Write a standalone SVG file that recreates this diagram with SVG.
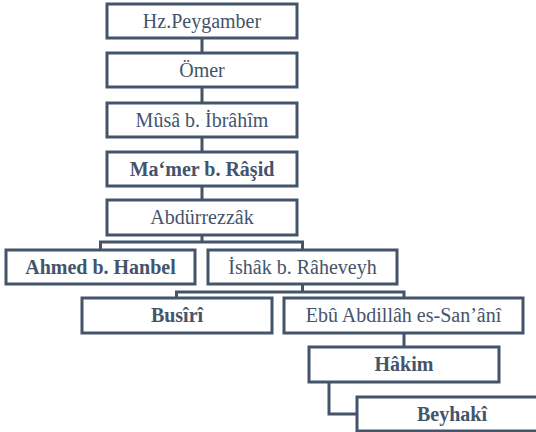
<svg xmlns="http://www.w3.org/2000/svg" width="536" height="432" viewBox="0 0 536 432">
<style>
.box{fill:#fff;stroke:#44546a;stroke-width:3}
.t{font-family:"Liberation Serif","DejaVu Serif",serif;font-size:20px;fill:#44546a;text-anchor:middle}
.b{font-weight:bold}
.c{fill:none;stroke:#44546a;stroke-width:3}
</style>
<rect width="536" height="432" fill="#fff"/>
<g id="connectors">
<path class="c" d="M202 38V53M202 87V103M202 137V152M202 186V200"/>
<path class="c" d="M202 235V242M100.5 250V242H302.5V250"/>
<path class="c" d="M302.5 284V292M176.5 298V292H404V298"/>
<path class="c" d="M404 333V347"/>
<path class="c" d="M329 382V414H357"/>
</g>
<g id="n1"><rect class="box" x="107" y="4" width="190" height="34"/><text class="t" x="202" y="28">Hz.Peygamber</text></g>
<g id="n2"><rect class="box" x="107" y="53" width="190" height="34"/><text class="t" x="202" y="77">Ömer</text></g>
<g id="n3"><rect class="box" x="107" y="103" width="190" height="34"/><text class="t" x="202" y="127">Mûsâ b. İbrâhîm</text></g>
<g id="n4"><rect class="box" x="107" y="152" width="190" height="34"/><text class="t b" x="202" y="176">Ma‘mer b. Râşid</text></g>
<g id="n5"><rect class="box" x="107" y="200" width="190" height="35"/><text class="t" x="202" y="224">Abdürrezzâk</text></g>
<g id="n6"><rect class="box" x="6" y="250" width="189" height="34"/><text class="t b" x="100.5" y="274">Ahmed b. Hanbel</text></g>
<g id="n7"><rect class="box" x="208" y="250" width="189" height="34"/><text class="t" x="302.5" y="274">İshâk b. Râheveyh</text></g>
<g id="n8"><rect class="box" x="82" y="298" width="190" height="35"/><text class="t b" x="177" y="322">Busîrî</text></g>
<g id="n9"><rect class="box" x="284" y="298" width="239" height="35"/><text class="t" x="403.5" y="322">Ebû Abdillâh es-San’ânî</text></g>
<g id="n10"><rect class="box" x="309" y="347" width="190" height="35"/><text class="t b" x="404" y="371">Hâkim</text></g>
<g id="n11"><rect class="box" x="357" y="397" width="190" height="34"/><text class="t b" x="452" y="421">Beyhakî</text></g>
</svg>
